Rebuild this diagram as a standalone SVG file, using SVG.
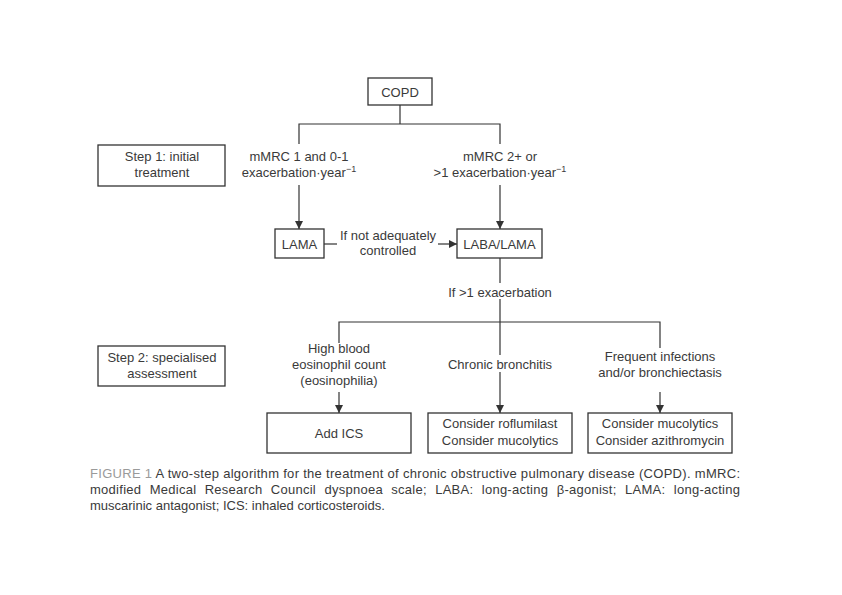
<svg xmlns="http://www.w3.org/2000/svg" width="842" height="595" viewBox="0 0 842 595">
<defs>
<style>
.box{fill:#fff;stroke:#333;stroke-width:1.3}
.ln{fill:none;stroke:#333;stroke-width:1.2}
.t{font-family:"Liberation Sans",Arial,sans-serif;font-size:13px;fill:#3a3a3a;text-anchor:middle}
.sup{font-size:9px}
.cap{font-family:"Liberation Sans",Arial,sans-serif;font-size:13px;fill:#3a3a3a}
.capg{fill:#9a9a9a}
</style>
<marker id="ah" viewBox="0 0 8 8" refX="8" refY="4" markerWidth="8" markerHeight="8" markerUnits="userSpaceOnUse" orient="auto">
<path d="M0,0 L8,4 L0,8 z" fill="#333"/>
</marker>
</defs>
<rect width="842" height="595" fill="#fff"/>

<g id="connectors">
<path class="ln" d="M400,105 V124 M299,144 V124 H500 V144"/>
<path class="ln" d="M299,185 V229" marker-end="url(#ah)"/>
<path class="ln" d="M500,185 V229" marker-end="url(#ah)"/>
<path class="ln" d="M324,244 H337"/>
<path class="ln" d="M438,244 H457" marker-end="url(#ah)"/>
<path class="ln" d="M500,258 V283"/>
<path class="ln" d="M500,299 V355"/>
<path class="ln" d="M339,343 V322 H660 V348"/>
<path class="ln" d="M500,372 V413" marker-end="url(#ah)"/>
<path class="ln" d="M339,392 V413" marker-end="url(#ah)"/>
<path class="ln" d="M660,392 V413" marker-end="url(#ah)"/>
<text class="t" x="388" y="240">If not adequately</text>
<text class="t" x="388" y="255">controlled</text>
<text class="t" x="500" y="297">If &gt;1 exacerbation</text>
<text class="t" x="299" y="161">mMRC 1 and 0-1</text>
<text class="t" x="299" y="177">exacerbation·year<tspan class="sup" dy="-5">−1</tspan></text>
<text class="t" x="500" y="161">mMRC 2+ or</text>
<text class="t" x="500" y="177">&gt;1 exacerbation·year<tspan class="sup" dy="-5">−1</tspan></text>
<text class="t" x="339" y="353">High blood</text>
<text class="t" x="339" y="369">eosinophil count</text>
<text class="t" x="339" y="385">(eosinophilia)</text>
<text class="t" x="500" y="369">Chronic bronchitis</text>
<text class="t" x="660" y="361">Frequent infections</text>
<text class="t" x="660" y="377">and/or bronchiectasis</text>
</g>

<g id="copd">
<rect class="box" x="368" y="78" width="64" height="27"/>
<text class="t" x="400" y="96.5">COPD</text>
</g>
<g id="step1">
<rect class="box" x="98" y="145" width="127" height="41"/>
<text class="t" x="162" y="161">Step 1: initial</text>
<text class="t" x="162" y="177">treatment</text>
</g>
<g id="lama">
<rect class="box" x="275" y="229" width="49" height="29"/>
<text class="t" x="299.5" y="248.5">LAMA</text>
</g>
<g id="labalama">
<rect class="box" x="457" y="229" width="85" height="29"/>
<text class="t" x="499.5" y="248.5">LABA/LAMA</text>
</g>
<g id="step2">
<rect class="box" x="98" y="346" width="127" height="40"/>
<text class="t" x="162" y="362">Step 2: specialised</text>
<text class="t" x="162" y="378">assessment</text>
</g>
<g id="addics">
<rect class="box" x="267" y="413" width="144" height="40"/>
<text class="t" x="339" y="437.5">Add ICS</text>
</g>
<g id="roflumilast">
<rect class="box" x="428" y="413" width="144" height="40"/>
<text class="t" x="500" y="428">Consider roflumilast</text>
<text class="t" x="500" y="445">Consider mucolytics</text>
</g>
<g id="mucolytics">
<rect class="box" x="588" y="413" width="144" height="40"/>
<text class="t" x="660" y="428">Consider mucolytics</text>
<text class="t" x="660" y="445">Consider azithromycin</text>
</g>

<g id="caption">
<text class="cap" x="90" y="478" textLength="650" lengthAdjust="spacing"><tspan class="capg">FIGURE 1</tspan> A two-step algorithm for the treatment of chronic obstructive pulmonary disease (COPD). mMRC:</text>
<text class="cap" x="90" y="494" word-spacing="4.5" textLength="650" lengthAdjust="spacing">modified Medical Research Council dyspnoea scale; LABA: long-acting β-agonist; LAMA: long-acting</text>
<text class="cap" x="90" y="510">muscarinic antagonist; ICS: inhaled corticosteroids.</text>
</g>
</svg>
